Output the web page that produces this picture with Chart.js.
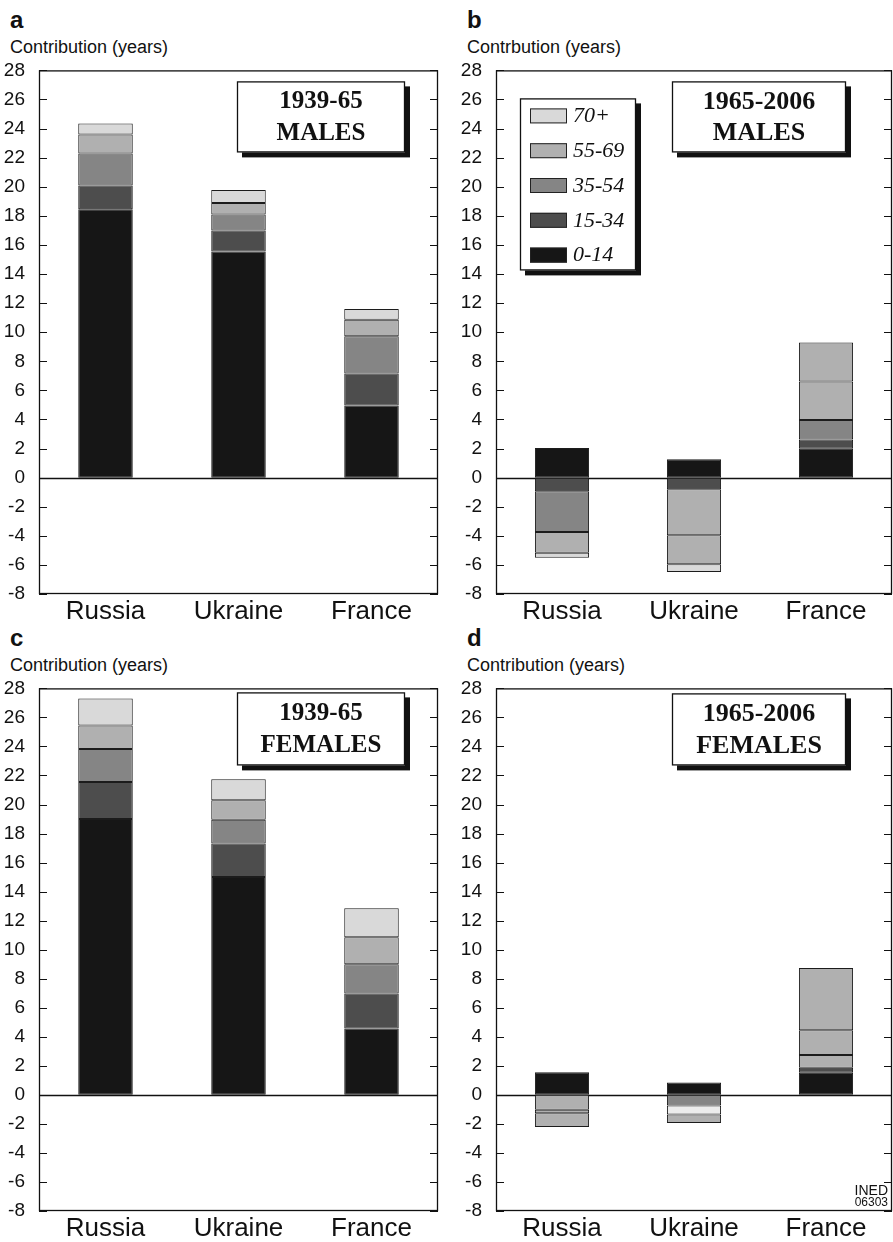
<!DOCTYPE html>
<html>
<head>
<meta charset="utf-8">
<script src="https://cdn.jsdelivr.net/npm/chart.js@4.4.1/dist/chart.umd.min.js"></script>
<style>
  html, body { margin: 0; padding: 0; background: #fff; }
  body { width: 893px; height: 1242px; position: relative; overflow: hidden; font-family: "Liberation Sans", Arial, sans-serif; color: #111; }
  .lbl { position: absolute; white-space: nowrap; }
  .letter { font-weight: bold; font-size: 24px; line-height: 24px; }
  .ylab { font-size: 18px; line-height: 18px; }
  canvas { position: absolute; }
</style>
</head>
<body>

<div class="lbl letter" style="left:10px;top:8px">a</div>
<div class="lbl ylab" style="left:10px;top:38px">Contribution (years)</div>
<div class="lbl letter" style="left:467px;top:8px">b</div>
<div class="lbl ylab" style="left:467px;top:38px">Contrbution (years)</div>
<div class="lbl letter" style="left:10px;top:626px">c</div>
<div class="lbl ylab" style="left:10px;top:656px">Contribution (years)</div>
<div class="lbl letter" style="left:467px;top:626px">d</div>
<div class="lbl ylab" style="left:467px;top:656px">Contribution (years)</div>

<canvas id="chartA" width="446" height="572" style="left:0;top:53px"></canvas>
<canvas id="chartB" width="436" height="572" style="left:457px;top:53px"></canvas>
<canvas id="chartC" width="446" height="571" style="left:0;top:671px"></canvas>
<canvas id="chartD" width="436" height="571" style="left:457px;top:671px"></canvas>

<div class="lbl" style="right:5px;top:1183px;font-size:14px;line-height:14px">INED</div>
<div class="lbl" style="right:5px;top:1196px;font-size:12px;line-height:12px">06303</div>

<script>
// ─── Data ─────────────────────────────────────────────────
const categories = ['Russia', 'Ukraine', 'France'];
const ageGroups  = ['0-14', '15-34', '35-54', '55-69', '70+'];
const yTicks     = [-8, -6, -4, -2, 0, 2, 4, 6, 8, 10, 12, 14, 16, 18, 20, 22, 24, 26, 28];

// rows follow ageGroups order, columns follow categories
const males1939 = [
    [18.45, 15.55, 4.96],
    [1.63, 1.45, 2.20],
    [2.20, 1.09, 2.56],
    [1.32, 0.80, 1.13],
    [0.75, 0.88, 0.75],
];
const males1965 = [
    [2.04, 1.27, 1.99],
    [-0.93, -0.79, 0.64],
    [-2.80, -3.17, 1.33],
    [-1.43, -1.99, 2.65],
    [-0.35, -0.54, 2.68],
];
const females1939 = [
    [19.00, 15.00, 4.58],
    [2.55, 2.32, 2.40],
    [2.27, 1.63, 2.02],
    [1.63, 1.34, 1.86],
    [1.86, 1.46, 2.00],
];
const females1965 = [
    [1.55, 0.85, 1.52],
    [0, 0, 0.34],
    [-1.02, -0.73, 0.89],
    [-0.25, -0.62, 1.70],
    [-0.95, -0.58, 4.29],
];

// ─── Styles ───────────────────────────────────────────────
const ageColors = ['#161616', '#4d4d4d', '#858585', '#b0b0b0', '#d9d9d9'];
// the printed figure shows a few segments in other greys than the legend
const shadesB = { 2: ['#858585', '#b0b0b0', '#858585'], 4: ['#d9d9d9', '#d9d9d9', '#b0b0b0'] };
const shadesD = { 2: ['#b0b0b0', '#858585', '#b0b0b0'], 3: ['#b0b0b0', '#ececec', '#b0b0b0'], 4: ['#b0b0b0', '#b0b0b0', '#b0b0b0'] };

// ─── Frame / title / legend plugin ────────────────────────
const framePlugin = {
    id: 'frame',
    beforeDatasetsDraw(chart) {
        const { ctx, chartArea: a, scales: { y } } = chart;
        ctx.save();
        ctx.strokeStyle = '#111';
        ctx.lineWidth = 1.5;
        const z = Math.round(y.getPixelForValue(0)) + 0.5;
        ctx.beginPath(); ctx.moveTo(a.left, z); ctx.lineTo(a.right, z); ctx.stroke();
        ctx.restore();
    },
    afterDraw(chart, args, opts) {
        const { ctx, chartArea: a, scales: { y } } = chart;
        ctx.save();
        ctx.strokeStyle = '#111';
        ctx.lineWidth = 1.3;
        ctx.strokeRect(a.left + 0.5, a.top + 0.5, a.right - a.left - 1, a.bottom - a.top - 1);

        // inward ticks on both sides
        ctx.lineWidth = 1.2;
        y.ticks.forEach(t => {
            const py = Math.round(y.getPixelForValue(t.value)) + 0.5;
            ctx.beginPath();
            ctx.moveTo(a.left, py); ctx.lineTo(a.left + 8, py);
            ctx.moveTo(a.right - 8, py); ctx.lineTo(a.right, py);
            ctx.stroke();
        });

        // title box with shadow
        const b = opts.box;
        if (b) {
            const bx = a.left + b.x, by = a.top + b.y;
            ctx.fillStyle = '#111';
            ctx.fillRect(bx + 5, by + 5, b.w, b.h);
            ctx.fillStyle = '#fff';
            ctx.fillRect(bx, by, b.w, b.h);
            ctx.lineWidth = 1.3;
            ctx.strokeRect(bx + 0.5, by + 0.5, b.w - 1, b.h - 1);
            ctx.fillStyle = '#111';
            ctx.font = 'bold ' + b.size + 'px "Liberation Serif", "Times New Roman", serif';
            ctx.textAlign = 'center';
            ctx.textBaseline = 'middle';
            ctx.fillText(b.lines[0], bx + b.w / 2 + (b.dx || 0), by + b.h * 0.29);
            ctx.fillText(b.lines[1], bx + b.w / 2 + (b.dx || 0), by + b.h * 0.73);
        }

        // legend box
        const lg = opts.legend;
        if (lg) {
            const lx = a.left + lg.x, ly = a.top + lg.y;
            ctx.fillStyle = '#111';
            ctx.fillRect(lx + 5, ly + 5, lg.w, lg.h);
            ctx.fillStyle = '#fff';
            ctx.fillRect(lx, ly, lg.w, lg.h);
            ctx.lineWidth = 1.3;
            ctx.strokeRect(lx + 0.5, ly + 0.5, lg.w - 1, lg.h - 1);
            ctx.font = 'italic 22px "Liberation Serif", "Times New Roman", serif';
            ctx.textAlign = 'left';
            ctx.textBaseline = 'middle';
            const n = ageGroups.length;
            for (let k = 0; k < n; k++) {
                const i = n - 1 - k;
                const cy = ly + 17 + k * 34.8;
                ctx.fillStyle = ageColors[i];
                ctx.fillRect(lx + 10, cy - 7, 37, 15);
                ctx.lineWidth = 1;
                ctx.strokeStyle = '#222';
                ctx.strokeRect(lx + 10.5, cy - 6.5, 36, 14);
                ctx.fillStyle = '#111';
                ctx.fillText(chart.data.datasets[i].label, lx + 53, cy + 1);
            }
        }
        ctx.restore();
    }
};

function makePanel(id, rows, shades, padRight, frameOpts) {
    const ctx = document.getElementById(id).getContext('2d');
    return new Chart(ctx, {
        type: 'bar',
        data: {
            labels: categories,
            datasets: ageGroups.map((g, i) => ({
                label: g,
                data: rows[i],
                backgroundColor: (shades && shades[i]) || ageColors[i],
                borderColor: '#1c1c1c',
                borderWidth: 1,
                borderSkipped: false,
                barPercentage: 0.41,
                categoryPercentage: 1,
            }))
        },
        options: {
            responsive: false,
            animation: false,
            devicePixelRatio: 1,
            layout: { padding: { top: 12, right: padRight, left: 0, bottom: 0 } },
            plugins: {
                legend: { display: false },
                tooltip: { enabled: false },
                frame: frameOpts,
            },
            scales: {
                x: {
                    stacked: true,
                    grid: { display: false },
                    border: { display: false },
                    ticks: { color: '#111', padding: -6, font: { family: '"Liberation Sans", Arial, sans-serif', size: 26 } },
                    afterFit: s => { s.height = 31; }
                },
                y: {
                    stacked: true,
                    min: -8, max: 28,
                    afterBuildTicks: s => { s.ticks = yTicks.map(v => ({ value: v })); },
                    grid: { display: false },
                    border: { display: false },
                    ticks: { color: '#111', padding: 6, font: { family: '"Liberation Sans", Arial, sans-serif', size: 19 } },
                    afterFit: s => { s.width = 39; }
                }
            }
        },
        plugins: [framePlugin]
    });
}

makePanel('chartA', males1939, null, 8, {
    box: { x: 198, y: 11, w: 168, h: 71, size: 25, lines: ['1939-65', 'MALES'] }
});
makePanel('chartB', males1965, shadesB, 1, {
    box: { x: 176, y: 11, w: 174, h: 71, size: 26, lines: ['1965-2006', 'MALES'] },
    legend: { x: 24, y: 28, w: 116, h: 172 }
});
makePanel('chartC', females1939, null, 8, {
    box: { x: 198, y: 4, w: 168, h: 73, size: 25, lines: ['1939-65', 'FEMALES'] }
});
makePanel('chartD', females1965, shadesD, 1, {
    box: { x: 176, y: 5, w: 174, h: 72, size: 26, lines: ['1965-2006', 'FEMALES'] }
});
</script>
</body>
</html>
